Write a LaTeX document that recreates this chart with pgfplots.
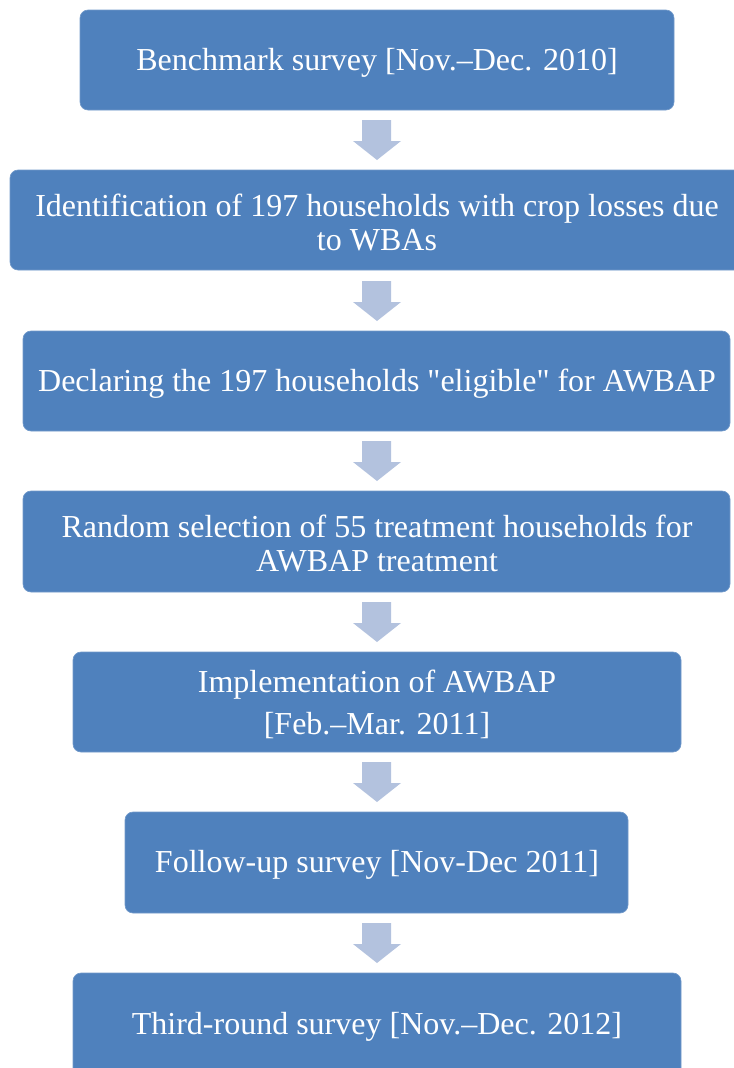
\documentclass[border=0pt]{standalone}
\usepackage{fontspec}
\setmainfont{Liberation Serif}
\newfontfamily\plainserif[Ligatures=TeXReset]{Liberation Serif}
\usepackage{pgfplots}
\pgfplotsset{compat=1.18}
\definecolor{boxblue}{HTML}{4F81BD}
\definecolor{arrowblue}{HTML}{B3C2DE}
\tikzset{
  box/.style = {fill=boxblue, draw=boxblue!80!white, line width=0.5pt, rounded corners=6pt},
  lbl/.style = {text=white, align=center, font=\fontsize{24}{25.5}\selectfont},
}
\begin{document}
\begin{tikzpicture}
\begin{axis}[
    scale only axis,
    width=550.5pt, height=801pt,
    xmin=0, xmax=734, ymin=0, ymax=1068,
    y dir=reverse,
    hide axis,
    clip=true,
]
% boxes (pixel coordinates, y from top)
\draw[box] (axis cs:80,10)  rectangle (axis cs:674,110);
\draw[box] (axis cs:10,170) rectangle (axis cs:750,270);
\draw[box] (axis cs:23,331) rectangle (axis cs:730,431);
\draw[box] (axis cs:23,491) rectangle (axis cs:730,592);
\draw[box] (axis cs:73,652) rectangle (axis cs:681,752);
\draw[box] (axis cs:125,812) rectangle (axis cs:628,913);
\draw[box] (axis cs:73,973) rectangle (axis cs:681,1090);
% down arrows
\addplot[fill=arrowblue, draw=none] coordinates {(362,120) (391,120) (391,141) (401,141) (377,160) (353,141) (362,141)} --cycle;
\addplot[fill=arrowblue, draw=none] coordinates {(362,281) (391,281) (391,302) (401,302) (377,321) (353,302) (362,302)} --cycle;
\addplot[fill=arrowblue, draw=none] coordinates {(362,441) (391,441) (391,462) (401,462) (377,481) (353,462) (362,462)} --cycle;
\addplot[fill=arrowblue, draw=none] coordinates {(362,602) (391,602) (391,623) (401,623) (377,642) (353,623) (362,623)} --cycle;
\addplot[fill=arrowblue, draw=none] coordinates {(362,762) (391,762) (391,783) (401,783) (377,802) (353,783) (362,783)} --cycle;
\addplot[fill=arrowblue, draw=none] coordinates {(362,923) (391,923) (391,944) (401,944) (377,963) (353,944) (362,944)} --cycle;
% labels
\node[lbl] at (axis cs:377,63) {Benchmark survey [Nov.–Dec. 2010]};
\node[lbl] at (axis cs:377,222) {Identification of 197 households with crop losses due\\to WBAs};
\node[lbl] at (axis cs:377,384) {\plainserif Declaring the 197 households "eligible" for AWBAP};
\node[lbl] at (axis cs:377,543) {Random selection of 55 treatment households for\\AWBAP treatment};
\node[lbl] at (axis cs:377,704) {Implementation of AWBAP\\[6pt][Feb.–Mar. 2011]};
\node[lbl] at (axis cs:377,865) {Follow-up survey [Nov-Dec 2011]};
\node[lbl] at (axis cs:377,1027) {Third-round survey [Nov.–Dec. 2012]};
\end{axis}
\pgfresetboundingbox
\path[use as bounding box] (current axis.south west) rectangle (current axis.north east);
\end{tikzpicture}
\end{document}
